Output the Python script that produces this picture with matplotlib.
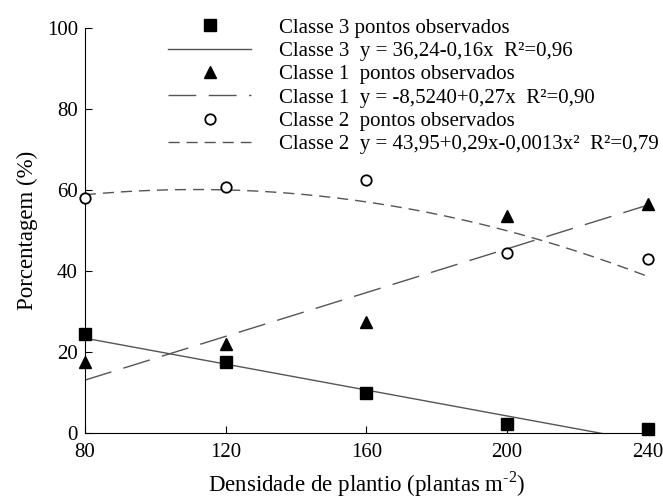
import numpy as np
import matplotlib
matplotlib.use("Agg")
import matplotlib.pyplot as plt

plt.rcParams['font.family'] = ['Liberation Serif', 'DejaVu Serif']
plt.rcParams['mathtext.fontset'] = 'custom'
plt.rcParams['mathtext.rm'] = 'Liberation Serif'

density = [80, 120, 160, 200, 240]
classe3 = [24.5, 17.5, 10.0, 2.3, 1.0]
classe1 = [17.5, 22.0, 27.5, 53.5, 56.5]
classe2 = [58.0, 60.8, 62.5, 44.5, 43.0]

# fitted equation coefficients (highest degree first) from legend
coef3 = [-0.16, 36.24]
coef1 = [0.27, -8.5240]
coef2 = [-0.0013, 0.29, 43.95]

labels = [
    "Classe 3 pontos observados",
    "Classe 3  y = 36,24-0,16x  R²=0,96",
    "Classe 1  pontos observados",
    "Classe 1  y = -8,5240+0,27x  R²=0,90",
    "Classe 2  pontos observados",
    "Classe 2  y = 43,95+0,29x-0,0013x²  R²=0,79",
]

fig = plt.figure(figsize=(6.63, 4.99), dpi=100)
ax = fig.add_axes([0.128, 0.132, 0.849, 0.812])

xs = np.linspace(80, 240, 200)
lc = '#555555'

h1, = ax.plot(density, classe3, linestyle='none', marker='s', ms=8.5, color='black', clip_on=False, zorder=5)
h2, = ax.plot(xs, np.polyval(coef3, xs), color=lc, lw=1.0)
h3, = ax.plot(density, classe1, linestyle='none', marker='^', ms=8.5, color='black', clip_on=False, zorder=5)
h4, = ax.plot(xs, np.polyval(coef1, xs), color=lc, lw=1.0, dashes=(20, 9))
h5, = ax.plot(density, classe2, linestyle='none', marker='o', ms=7.5, mfc='white', mec='black', mew=1.3, clip_on=False, zorder=5)
h6, = ax.plot(xs, np.polyval(coef2, xs), color=lc, lw=1.0, dashes=(8, 5))

ax.set_xlim(80, 240)
ax.set_ylim(0, 100)
ax.set_xticks([80, 120, 160, 200, 240])
ax.set_yticks([0, 20, 40, 60, 80, 100])
ax.spines['top'].set_visible(False)
ax.spines['right'].set_visible(False)
ax.tick_params(direction='in', length=5, labelsize=15, pad=5, width=0.8)
ax.tick_params(axis='x', pad=7)

ax.set_xlabel(r"Densidade de plantio (plantas m$^{\mathregular{\text{-}2}}$)", fontsize=16.5)
ax.xaxis.set_label_coords(0.5, -0.09)
ax.set_ylabel("Porcentagem (%)", fontsize=16.5, labelpad=6)

leg = ax.legend([h1, h2, h3, h4, h5, h6], labels, loc='upper right',
                bbox_to_anchor=(1.035, 1.045), frameon=False, fontsize=15,
                handlelength=4.0, handletextpad=1.35, labelspacing=0.18, borderaxespad=0)

fig.savefig("out.png", dpi=100)
